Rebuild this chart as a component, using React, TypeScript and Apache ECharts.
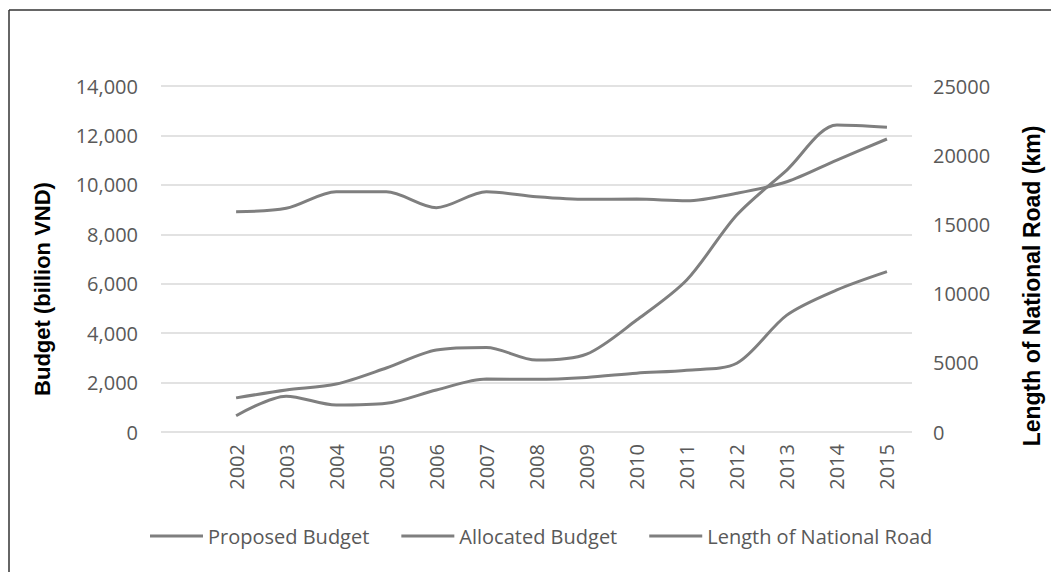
import React, { useEffect, useRef } from "react";
import * as echarts from "echarts";

const years = ["2002", "2003", "2004", "2005", "2006", "2007", "2008", "2009", "2010", "2011", "2012", "2013", "2014", "2015"];
const proposedBudget = [1380, 1700, 1940, 2590, 3320, 3420, 2910, 3150, 4530, 6150, 8780, 10600, 12420, 12330];
const allocatedBudget = [660, 1450, 1090, 1160, 1700, 2140, 2130, 2210, 2380, 2500, 2780, 4730, 5750, 6490];
const roadLength = [15920, 16160, 17360, 17360, 16210, 17360, 17000, 16810, 16830, 16710, 17250, 18080, 19650, 21170];
const seriesNames = ["Proposed Budget", "Allocated Budget", "Length of National Road"];
const leftTitle = "Budget (billion VND)";
const rightTitle = "Length of National Road (km)";

const LINE = "#7f7f7f";
const TXT = "#595959";
const FONT = "'Open Sans', sans-serif";

export default function App() {
  const ref = useRef<HTMLDivElement>(null);
  useEffect(() => {
    if (!ref.current) return;
    const chart = echarts.init(ref.current, null, { renderer: "svg" });
    const cats = ["", ...years];
    const pad = (a: number[]) => [null, ...a];
    const lineSeries = (name: string, data: number[], yAxisIndex: number) => ({
      name,
      type: "line",
      yAxisIndex,
      data: pad(data),
      smooth: 0.3,
      symbol: "none",
      lineStyle: { color: LINE, width: 3 },
      itemStyle: { color: LINE },
    });
    chart.setOption({
      animation: false,
      backgroundColor: "#ffffff",
      textStyle: { fontFamily: FONT },
      grid: { left: 161, right: 139, top: 86, bottom: 140 },
      legend: {
        bottom: 21,
        left: 145,
        icon: "rect",
        itemWidth: 53,
        itemHeight: 3,
        itemGap: 32,
        textStyle: { color: TXT, fontSize: 20, fontFamily: FONT },
        data: seriesNames,
      },
      xAxis: {
        type: "category",
        data: cats,
        boundaryGap: true,
        axisLine: { show: false },
        axisTick: { show: false },
        axisLabel: { rotate: 90, color: TXT, fontSize: 20, margin: 12, fontFamily: FONT, interval: 0 },
      },
      yAxis: [
        {
          type: "value",
          min: 0,
          max: 14000,
          interval: 2000,
          axisLine: { show: false },
          axisTick: { show: false },
          splitLine: { lineStyle: { color: "#d9d9d9", width: 1.5 } },
          axisLabel: {
            color: TXT,
            fontSize: 20,
            margin: 23,
            fontFamily: FONT,
            formatter: (v: number) => v.toLocaleString("en-US"),
          },
        },
        {
          type: "value",
          min: 0,
          max: 25000,
          interval: 5000,
          axisLine: { show: false },
          axisTick: { show: false },
          splitLine: { show: false },
          axisLabel: { color: TXT, fontSize: 20, margin: 21, fontFamily: FONT, formatter: (v: number) => String(v) },
        },
      ],
      series: [
        lineSeries(seriesNames[0], proposedBudget, 0),
        lineSeries(seriesNames[1], allocatedBudget, 0),
        lineSeries(seriesNames[2], roadLength, 1),
      ],
      graphic: [
        { type: "line", shape: { x1: 9, y1: 10, x2: 1051, y2: 10 }, style: { stroke: "#333333", lineWidth: 1.5 } },
        { type: "line", shape: { x1: 9, y1: 10, x2: 9, y2: 572 }, style: { stroke: "#333333", lineWidth: 1.5 } },
        {
          type: "text",
          x: 42,
          y: 289,
          rotation: Math.PI / 2,
          style: {
            text: leftTitle,
            fill: "#000000",
            font: "bold 22px 'Liberation Sans', Arial, sans-serif",
            textAlign: "center",
            textVerticalAlign: "middle",
          },
        },
        {
          type: "text",
          x: 1032,
          y: 286,
          rotation: Math.PI / 2,
          style: {
            text: rightTitle,
            fill: "#000000",
            font: "bold 23px 'Liberation Sans', Arial, sans-serif",
            textAlign: "center",
            textVerticalAlign: "middle",
          },
        },
      ],
    });
    return () => chart.dispose();
  }, []);
  return <div ref={ref} style={{ position: "fixed", left: 0, top: 0, width: 1051, height: 572 }} />;
}
